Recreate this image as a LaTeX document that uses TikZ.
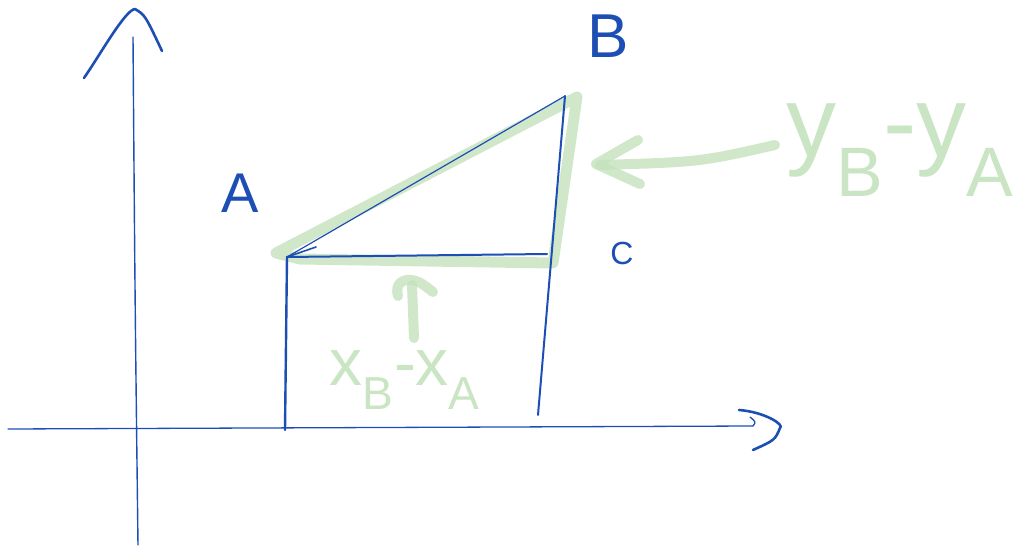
\documentclass[tikz,border=0pt]{standalone}
\usepackage{fontspec}
\setmainfont{Liberation Sans}
\definecolor{pen}{RGB}{28,78,180}
\definecolor{hl}{RGB}{196,226,188}
\begin{document}
\begin{tikzpicture}[x=1pt,y=-1pt,
  pen/.style={draw=pen,line cap=round,line join=round},
  hl/.style={draw=hl,line width=11pt,line cap=round,line join=round,opacity=0.8},
  plbl/.style={text=pen,inner sep=0pt},
  glbl/.style={text=hl,inner sep=0pt,opacity=0.9}]
\useasboundingbox (0,0) rectangle (1018,548);
% coordinates
\coordinate (O1) at (138,545);
\coordinate (Ytop) at (133,37);
\coordinate (Yl) at (84,78);
\coordinate (Ytip) at (135,9);
\coordinate (Yr) at (162,51);
\coordinate (X0) at (8,429);
\coordinate (Xend) at (753,426);
\coordinate (Xl) at (739,410);
\coordinate (Xtip) at (780,428);
\coordinate (Xr) at (753,450);
\coordinate (A) at (287,257);
\coordinate (B) at (565,96);
\coordinate (C) at (547,254);
\coordinate (Cb) at (538,415);
\coordinate (Ab) at (285,430);
% highlight
\draw[hl] (276,253) -- (577,97) -- (553,263) -- (300,259) -- cycle;
% axes
\draw[pen,line width=1.4pt] (O1) .. controls (135,300) .. (Ytop);
\draw[pen,line width=2.6pt] (Yl) .. controls (100,55) and (125,10) .. (Ytip) .. controls (145,15) .. (Yr);
\draw[pen,line width=1.3pt] (X0) -- (Xend) .. controls (756,422) .. (750,417);
\draw[pen,line width=2.6pt] (Xl) .. controls (765,412) and (785,425) .. (Xtip) .. controls (775,440) .. (Xr);
% triangle
\draw[pen,line width=1.2pt] (A) -- (B);
\draw[pen,line width=2pt] (A) -- (C);
\draw[pen,line width=2pt] (B) -- (Cb);
\draw[pen,line width=2.4pt] (A) -- (Ab);
\draw[pen,line width=1.6pt] (A) -- (316,247);
% labels
\node[plbl,font=\fontsize{56}{56}\selectfont] (LA) at (240,193) {A};
\node[plbl,font=\fontsize{62}{62}\selectfont] (LB) at (608,36) {B};
\node[plbl,font=\fontsize{32}{32}\selectfont] (LC) at (622,253) {C};
% green annotations
\node[glbl,font=\fontsize{100}{100}\selectfont] (dy) at (900,150) {y\textsubscript{B}-y\textsubscript{A}};
\node[glbl,font=\fontsize{66}{66}\selectfont] (dx) at (405,380) {x\textsubscript{B}-x\textsubscript{A}};
\coordinate (gy1) at (775,145);
\coordinate (gy2) at (600,165);
\draw[hl,line width=10pt] (gy1) .. controls (700,162) .. (gy2);
\draw[hl,line width=10pt] (638,140) -- (596,164) -- (640,184);
\coordinate (gx1) at (414,338);
\coordinate (gx2) at (412,285);
\draw[hl,line width=10pt] (gx1) -- (gx2);
\draw[hl,line width=10pt] (398,296) .. controls (394,282) and (405,279) .. (412,280) .. controls (420,282) .. (433,292);
\end{tikzpicture}
\end{document}
